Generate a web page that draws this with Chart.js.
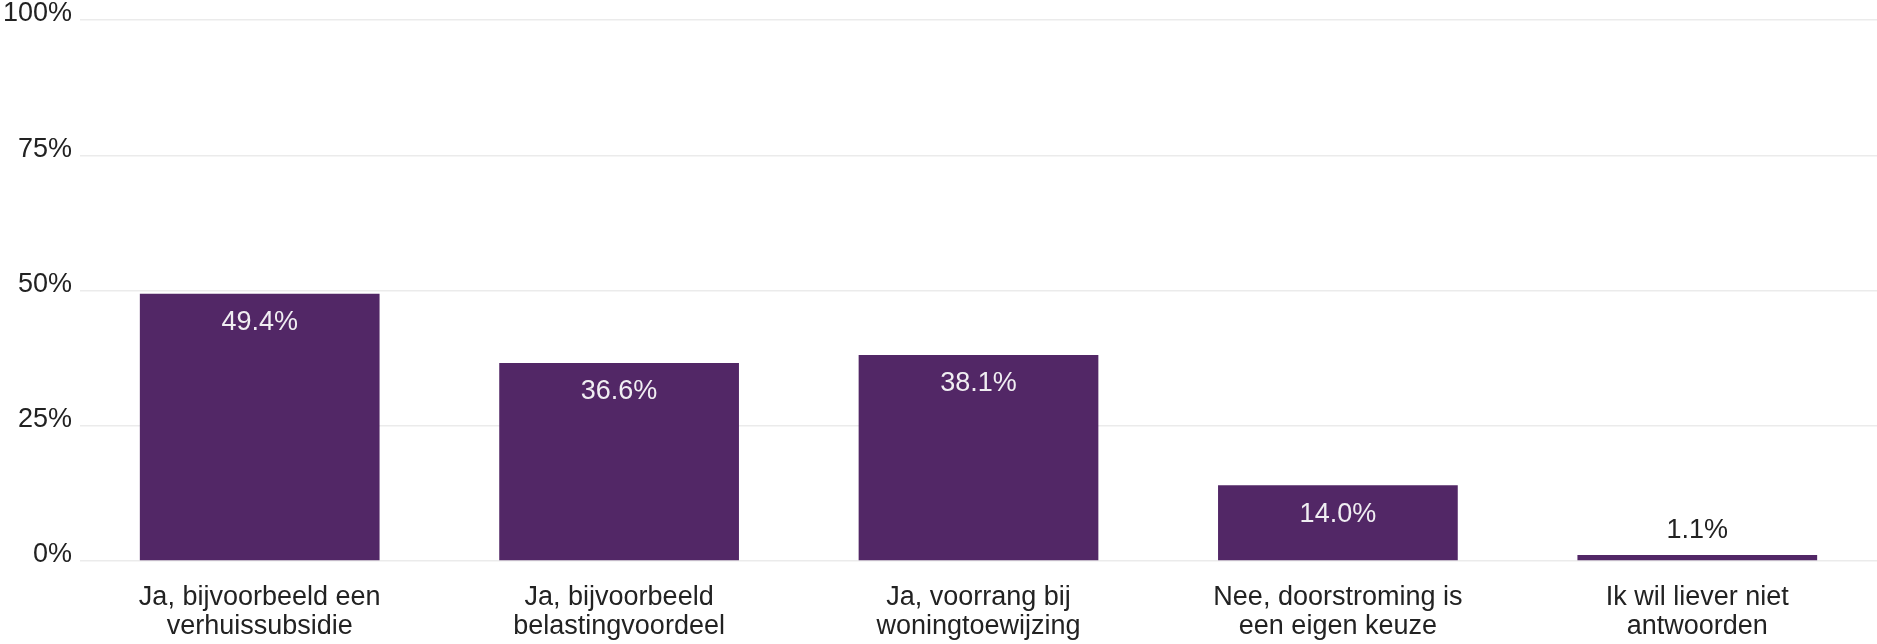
<!DOCTYPE html>
<html>
<head>
<meta charset="utf-8">
<script src="https://cdn.jsdelivr.net/npm/chart.js@4.4.1/dist/chart.umd.min.js"></script>
<style>
  html, body { margin: 0; padding: 0; background: #fff; }
  #wrap { width: 1877px; height: 644px; position: relative; }
</style>
</head>
<body>
<div id="wrap"><canvas id="chart"></canvas></div>
<script>
  // Answer options (wrapped over two lines) and share of respondents in %
  var categories = [
    ['Ja, bijvoorbeeld een', 'verhuissubsidie'],
    ['Ja, bijvoorbeeld', 'belastingvoordeel'],
    ['Ja, voorrang bij', 'woningtoewijzing'],
    ['Nee, doorstroming is', 'een eigen keuze'],
    ['Ik wil liever niet', 'antwoorden']
  ];
  var shares = [49.4, 36.6, 38.1, 14.0, 1.1];
  var yTicks = [0, 25, 50, 75, 100];

  var BAR = '#522766';
  var INK = '#222222';
  var FONT = '"Liberation Sans", Arial, sans-serif';
  var SIZE = 27;

  // value labels: inside the bar near its top, or above it when the bar is too short
  var barLabels = {
    id: 'barLabels',
    afterDatasetsDraw: function (chart) {
      var ctx = chart.ctx;
      var meta = chart.getDatasetMeta(0);
      ctx.save();
      ctx.font = SIZE + 'px ' + FONT;
      ctx.textAlign = 'center';
      ctx.textBaseline = 'middle';
      meta.data.forEach(function (bar, i) {
        var text = shares[i].toFixed(1) + '%';
        if (bar.base - bar.y > 50) {
          ctx.fillStyle = '#f0eef2';
          ctx.fillText(text, bar.x, bar.y + 29);
        } else {
          ctx.fillStyle = INK;
          ctx.fillText(text, bar.x, bar.y - 25);
        }
      });
      ctx.restore();
    }
  };

  new Chart(document.getElementById('chart'), {
    type: 'bar',
    data: {
      labels: categories,
      datasets: [{
        data: shares,
        backgroundColor: BAR,
        borderWidth: 0,
        barPercentage: 0.667,
        categoryPercentage: 1
      }]
    },
    options: {
      responsive: true,
      maintainAspectRatio: false,
      animation: false,
      layout: { padding: 0 },
      plugins: {
        legend: { display: false },
        tooltip: { enabled: false }
      },
      scales: {
        x: {
          grid: { display: false },
          border: { display: false },
          ticks: {
            color: INK,
            padding: 14,
            maxRotation: 0,
            autoSkip: false,
            font: { family: FONT, size: SIZE, lineHeight: 1.07 }
          },
          afterFit: function (scale) { scale.height = 83; }
        },
        y: {
          min: 0,
          max: 100,
          afterBuildTicks: function (scale) {
            scale.ticks = yTicks.map(function (v) { return { value: v }; });
          },
          grid: { color: '#ebebeb', lineWidth: 1.5, drawTicks: false },
          border: { display: false },
          ticks: {
            color: INK,
            padding: 8,
            labelOffset: -6,
            font: { family: FONT, size: SIZE },
            callback: function (v) { return v + '%'; }
          },
          afterFit: function (scale) {
            scale.width = 80;
            scale.paddingTop = 20;
            scale.paddingBottom = 0;
          }
        }
      }
    },
    plugins: [barLabels]
  });
</script>
</body>
</html>
